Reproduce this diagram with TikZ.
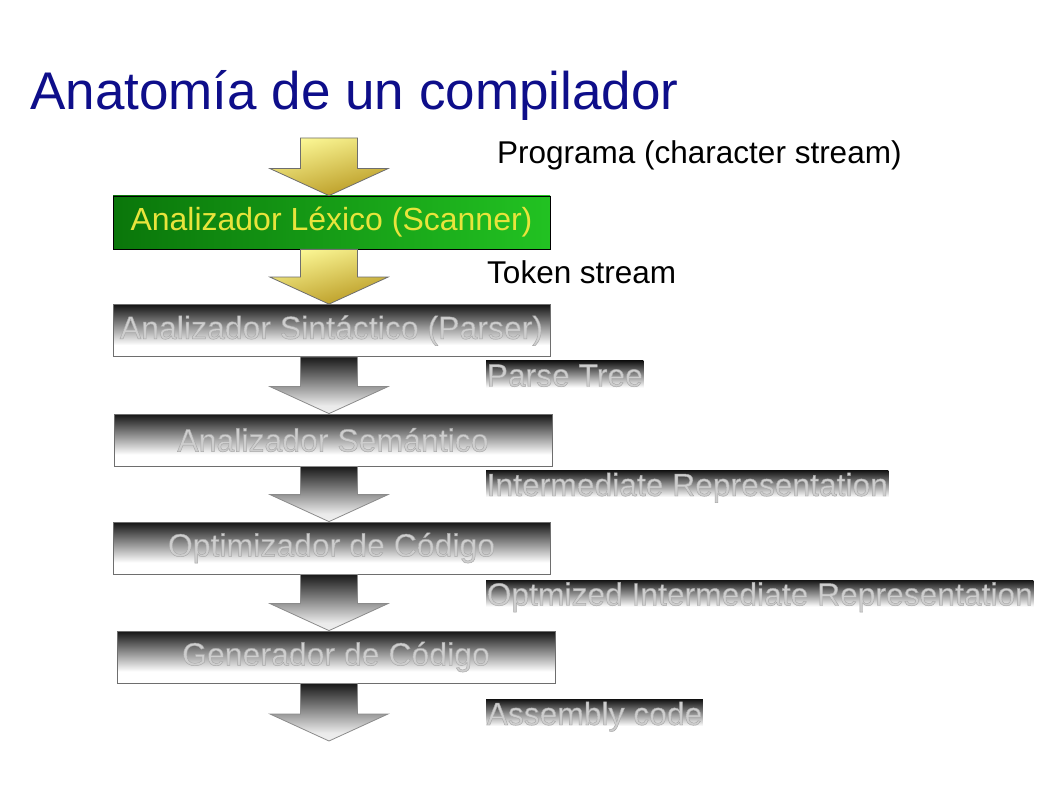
\documentclass[tikz,border=0pt]{standalone}
\usepackage{fontspec}
\setmainfont{Liberation Sans}
\usetikzlibrary{calc}
\definecolor{titleblue}{RGB}{14,14,138}
\definecolor{ytext}{RGB}{232,228,60}
\definecolor{gdark}{RGB}{10,118,10}
\definecolor{glight}{RGB}{34,194,34}
\definecolor{ylight}{RGB}{252,248,150}
\definecolor{ydark}{RGB}{188,158,40}
\definecolor{embfill}{RGB}{206,206,206}
\definecolor{edgegray}{RGB}{110,110,110}
\pgfdeclareverticalshading{fadebox}{100bp}{color(0bp)=(white); color(36bp)=(white); color(75bp)=(black!92); color(100bp)=(black!92)}
\pgfdeclareverticalshading{fadearrow}{100bp}{color(0bp)=(white); color(32bp)=(white!92!black); color(75bp)=(black!90); color(100bp)=(black!90)}
\pgfdeclareverticalshading{yellowarrow}{100bp}{color(0bp)=(ydark); color(28bp)=(ydark); color(75bp)=(ylight); color(100bp)=(ylight)}
\newcommand\emb[1]{\special{pdf:literal direct 0.66 0.66 0.66 RG 0.45 w 2 Tr}#1\special{pdf:literal direct 0 Tr}}
\newcommand\CompArrow[3]{%
  \path[#1] let \p1=(#2), \p2=(#3) in
    (\x2-28.5pt,\y1) -- (\x2+28.5pt,\y1) -- (\x2+28.5pt,\y2+27pt) -- (\x2+59pt,\y2+27pt)
    -- (\x2,\y2) -- (\x2-59pt,\y2+27pt) -- (\x2-28.5pt,\y2+27pt) -- cycle;}
\tikzset{
  boxfont/.style={font=\fontsize{32}{38}\selectfont},
  labfont/.style={font=\fontsize{31.8}{38}\selectfont},
  graybox/.style={draw=edgegray, line width=0.8pt, shading=fadebox, minimum width=437pt,
    minimum height=52pt, inner sep=0pt, text=embfill, boxfont},
  greenbox/.style={draw=black, line width=0.8pt, left color=gdark, right color=glight,
    minimum width=437pt, minimum height=53pt, inner sep=0pt, text=ytext, boxfont},
  graylabel/.style={shading=fadebox, anchor=west, inner xsep=0.5pt, inner ysep=1.5pt,
    text height=24pt, text depth=7pt, text=embfill, labfont},
  plainlabel/.style={anchor=base west, text=black, inner sep=0pt, font=\fontsize{31.5}{38}\selectfont},
  yarrow/.style={draw=edgegray, line width=0.8pt, shading=yellowarrow, shading angle=15},
  garrow/.style={draw=edgegray!80, line width=0.8pt, shading=fadearrow},
}
\begin{document}
\begin{tikzpicture}[x=1pt,y=-1pt]
\fill[white] (0,0) rectangle (1058,794);
\useasboundingbox (0,0) rectangle (1058,794);

\node[anchor=base west, inner sep=0pt, text=titleblue, font=\fontsize{53}{60}\selectfont] (title) at (30,110) {Anatomía de un compilador};

\coordinate (ax) at (329,0);
\coordinate (in) at (329,138);
\coordinate (out) at (329,741);

\node[greenbox] (b1) at (331.5,222.5) {Analizador Léxico (Scanner)};
\node[graybox] (b2) at (331.5,330.5) {\emb{Analizador Sintáctico (Parser)}};
\node[graybox, minimum width=438pt] (b3) at (333,440) {\emb{Analizador Semántico}};
\node[graybox] (b4) at (331.5,548) {\emb{Optimizador de Código}};
\node[graybox, minimum width=438pt] (b5) at (336,657) {\emb{Generador de Código}};

\CompArrow{yarrow}{in}{b1.north -| ax}
\CompArrow{yarrow}{b1.south -| ax}{b2.north -| ax}
\CompArrow{garrow}{b2.south -| ax}{b3.north -| ax}
\CompArrow{garrow}{b3.south -| ax}{b4.north -| ax}
\CompArrow{garrow}{b4.south -| ax}{b5.north -| ax}
\CompArrow{garrow}{b5.south -| ax}{out}

\node[plainlabel] (t0) at (497,164) {Programa (character stream)};
\node[plainlabel] (t1) at (487,284) {Token stream};
\node[graylabel] (t2) at (486,378) {\emb{Parse Tree}};
\node[graylabel] (t3) at (486,487.5) {\emb{Intermediate Representation}};
\node[graylabel] (t4) at (486,597) {\emb{Optmized Intermediate Representation}};
\node[graylabel] (t5) at (486,716.5) {\emb{Assembly code}};
\end{tikzpicture}
\end{document}
